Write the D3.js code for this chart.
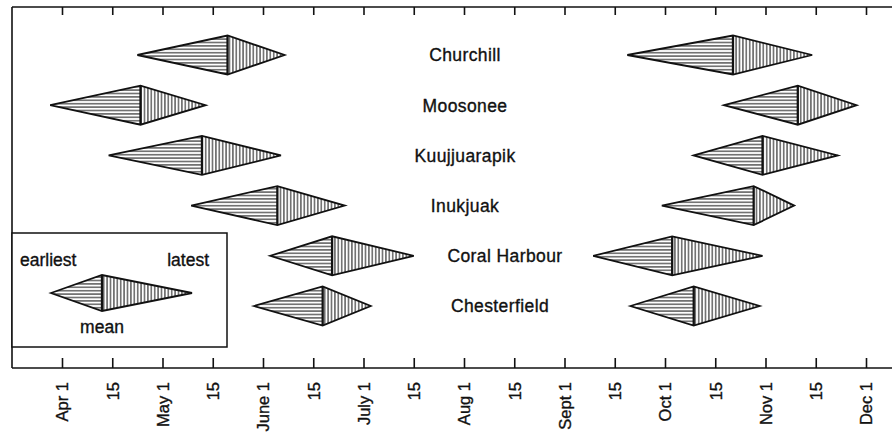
<!DOCTYPE html>
<html>
<head>
<meta charset="utf-8">
<script src="https://cdn.jsdelivr.net/npm/d3@7"></script>
<style>
  body { margin: 0; background: #fff; }
  svg { display: block; }
  text { font-family: "Liberation Sans", Arial, sans-serif; fill: #111; stroke: #111; stroke-width: 0.35px; }
  .station { font-size: 17.5px; letter-spacing: 0.4px; }
  .legend-text { font-size: 17.5px; }
  .tick-label { font-size: 16.5px; }
</style>
</head>
<body>
<svg width="892" height="433"></svg>
<script>
// stations, top to bottom
var stations = ['Churchill', 'Moosonee', 'Kuujjuarapik', 'Inukjuak', 'Coral Harbour', 'Chesterfield'];

// spring (left diamonds)
var springEarliest = ['Apr 23', 'Mar 28', 'Apr 14', 'May 9', 'Jun 3', 'May 29'];
var springMean     = ['May 20', 'Apr 24', 'May 12', 'Jun 5', 'Jun 21', 'Jun 18'];
var springLatest   = ['Jun 7', 'May 13', 'Jun 6', 'Jun 25', 'Jul 15', 'Jul 3'];

// autumn (right diamonds)
var fallEarliest = ['Sep 19', 'Oct 18', 'Oct 9', 'Sep 30', 'Sep 9', 'Sep 20'];
var fallMean     = ['Oct 21', 'Nov 10', 'Oct 31', 'Oct 28', 'Oct 3', 'Oct 9'];
var fallLatest   = ['Nov 14', 'Nov 28', 'Nov 22', 'Nov 9', 'Oct 31', 'Oct 30'];

// axis ticks
var tickDates = ['Apr 1', 'Apr 15', 'May 1', 'May 15', 'Jun 1', 'Jun 15', 'Jul 1', 'Jul 15',
                 'Aug 1', 'Aug 15', 'Sep 1', 'Sep 15', 'Oct 1', 'Oct 15', 'Nov 1', 'Nov 15', 'Dec 1'];
var tickLabels = ['Apr 1', '15', 'May 1', '15', 'June 1', '15', 'July 1', '15',
                  'Aug 1', '15', 'Sept 1', '15', 'Oct 1', '15', 'Nov 1', '15', 'Dec 1'];

function main() {
	var svg = d3.select('svg'),
		width = +svg.attr('width'),
		height = +svg.attr('height');

	var parse = d3.timeParse('%b %d');
	var frameLeft = 12, frameTop = 7, axisY = 368;
	var firstTick = 62, step = 50.25;   // half-month ticks are evenly spaced

	// polylinear time scale: each half month gets the same width
	var domain = ['Mar 15'].concat(tickDates, ['Dec 15']).map(parse);
	var x = d3.scaleTime()
		.domain(domain)
		.range(domain.map(function(d, i) { return firstTick + (i - 1) * step; }));

	var y = d3.scalePoint()
		.domain(stations)
		.range([55, 306]);

	var half = 19.5;

	// hatch patterns
	var defs = svg.append('defs');
	var hp = defs.append('pattern')
		.attr('id', 'hatch-h')
		.attr('patternUnits', 'userSpaceOnUse')
		.attr('width', 6).attr('height', 3.4);
	hp.append('line')
		.attr('x1', 0).attr('x2', 6).attr('y1', 1.7).attr('y2', 1.7)
		.attr('stroke', '#111').attr('stroke-width', 1);
	var vp = defs.append('pattern')
		.attr('id', 'hatch-v')
		.attr('patternUnits', 'userSpaceOnUse')
		.attr('width', 3.4).attr('height', 6);
	vp.append('line')
		.attr('y1', 0).attr('y2', 6).attr('x1', 1.7).attr('x2', 1.7)
		.attr('stroke', '#111').attr('stroke-width', 1);

	// frame: top line and left line
	svg.append('line')
		.attr('x1', frameLeft).attr('x2', width)
		.attr('y1', frameTop).attr('y2', frameTop)
		.attr('stroke', '#111').attr('stroke-width', 1.6);
	svg.append('line')
		.attr('x1', frameLeft).attr('x2', frameLeft)
		.attr('y1', frameTop).attr('y2', axisY)
		.attr('stroke', '#111').attr('stroke-width', 1.6);

	// top ticks
	var topAxis = d3.axisTop(x)
		.tickValues(tickDates.map(parse))
		.tickSize(-8)
		.tickSizeOuter(0)
		.tickFormat('');
	var gt = svg.append('g')
		.attr('transform', 'translate(0,' + frameTop + ')')
		.call(topAxis);
	gt.select('.domain').remove();
	gt.selectAll('line').attr('stroke', '#111').attr('stroke-width', 1.6);

	// bottom axis
	var bottomAxis = d3.axisBottom(x)
		.tickValues(tickDates.map(parse))
		.tickSize(-10)
		.tickSizeOuter(0)
		.tickFormat(function(d, i) { return tickLabels[i]; });
	var gb = svg.append('g')
		.attr('transform', 'translate(0,' + axisY + ')')
		.call(bottomAxis);
	gb.select('.domain').attr('stroke', '#111').attr('stroke-width', 1.6)
		.attr('d', 'M' + frameLeft + ',0H' + width);
	gb.selectAll('.tick line').attr('stroke', '#111').attr('stroke-width', 1.6);
	gb.selectAll('.tick text')
		.attr('class', 'tick-label')
		.attr('fill', '#111')
		.attr('text-anchor', 'end')
		.attr('transform', 'rotate(-90)')
		.attr('x', -14)
		.attr('y', 0)
		.attr('dy', '0.36em');
	gb.attr('font-size', null).attr('font-family', null);

	// diamonds
	function diamond(g, x0, xm, x1, cy, h) {
		g.append('path')
			.attr('d', 'M' + x0 + ',' + cy + 'L' + xm + ',' + (cy - h) + 'L' + xm + ',' + (cy + h) + 'Z')
			.attr('fill', 'url(#hatch-h)');
		g.append('path')
			.attr('d', 'M' + x1 + ',' + cy + 'L' + xm + ',' + (cy - h) + 'L' + xm + ',' + (cy + h) + 'Z')
			.attr('fill', 'url(#hatch-v)');
		g.append('path')
			.attr('d', 'M' + x0 + ',' + cy + 'L' + xm + ',' + (cy - h) + 'L' + x1 + ',' + cy + 'L' + xm + ',' + (cy + h) + 'Z')
			.attr('fill', 'none')
			.attr('stroke', '#111')
			.attr('stroke-width', 1.8)
			.attr('stroke-linejoin', 'miter');
		g.append('line')
			.attr('x1', xm).attr('x2', xm)
			.attr('y1', cy - h).attr('y2', cy + h)
			.attr('stroke', '#111')
			.attr('stroke-width', 2.3);
	}

	var rows = svg.append('g');
	stations.forEach(function(s, i) {
		var g = rows.append('g').attr('class', 'row');
		diamond(g, x(parse(springEarliest[i])), x(parse(springMean[i])), x(parse(springLatest[i])), y(s), half);
		diamond(g, x(parse(fallEarliest[i])), x(parse(fallMean[i])), x(parse(fallLatest[i])), y(s), half);
	});

	// station names (the lower two sit a little further right)
	var labelShift = { 'Coral Harbour': 40, 'Chesterfield': 35 };
	svg.append('g').selectAll('text')
		.data(stations)
		.enter().append('text')
		.attr('class', 'station')
		.attr('x', function(d) { return 465 + (labelShift[d] || 0); })
		.attr('y', function(d) { return y(d); })
		.attr('dy', '0.36em')
		.attr('text-anchor', 'middle')
		.text(function(d) { return d; });

	// legend box
	var lg = svg.append('g');
	lg.append('rect')
		.attr('x', frameLeft).attr('y', 233)
		.attr('width', 215).attr('height', 114)
		.attr('fill', '#fff')
		.attr('stroke', '#111')
		.attr('stroke-width', 1.5);
	diamond(lg, 51, 102, 192, 293, 18);
	lg.append('text').attr('class', 'legend-text')
		.attr('x', 20).attr('y', 266).text('earliest');
	lg.append('text').attr('class', 'legend-text')
		.attr('x', 209).attr('y', 266).attr('text-anchor', 'end').text('latest');
	lg.append('text').attr('class', 'legend-text')
		.attr('x', 102).attr('y', 333).attr('text-anchor', 'middle').text('mean');
}
main();
</script>
</body>
</html>
